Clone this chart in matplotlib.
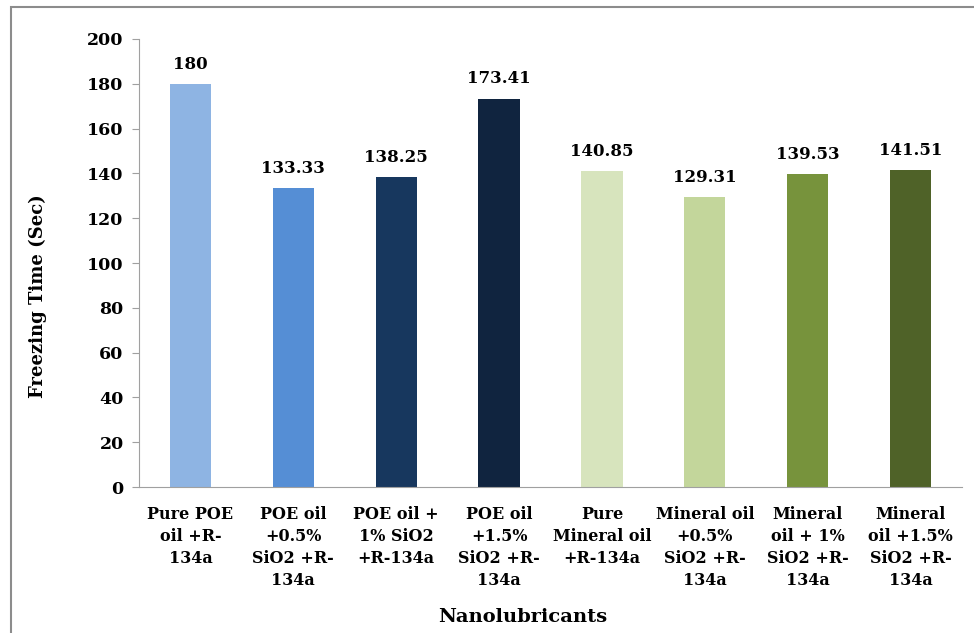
import matplotlib
matplotlib.use("Agg")
import matplotlib.pyplot as plt
from matplotlib.patches import Rectangle

categories = [
    "Pure POE\noil +R-\n134a",
    "POE oil\n+0.5%\nSiO2 +R-\n134a",
    "POE oil +\n1% SiO2\n+R-134a",
    "POE oil\n+1.5%\nSiO2 +R-\n134a",
    "Pure\nMineral oil\n+R-134a",
    "Mineral oil\n+0.5%\nSiO2 +R-\n134a",
    "Mineral\noil + 1%\nSiO2 +R-\n134a",
    "Mineral\noil +1.5%\nSiO2 +R-\n134a",
]
freezing_time = [180, 133.33, 138.25, 173.41, 140.85, 129.31, 139.53, 141.51]
value_labels = ["180", "133.33", "138.25", "173.41", "140.85", "129.31", "139.53", "141.51"]
bar_colors = ["#8EB4E3", "#558ED5", "#17375E", "#10243F",
              "#D7E4BD", "#C3D69B", "#77933C", "#4F6228"]

plt.rcParams["font.family"] = ["DejaVu Serif"]
plt.rcParams["font.weight"] = "bold"

fig = plt.figure(figsize=(9.74, 6.33), dpi=100)
ax = fig.add_axes([0.1427, 0.2306, 0.8450, 0.7078])

# outer frame of the pasted chart
fig.patches.append(Rectangle((11 / 974, -0.1), 1.2, 1 - 7 / 633 + 0.1,
                             transform=fig.transFigure, fill=False,
                             edgecolor="#8C8C8C", linewidth=1.5))

x = range(len(categories))
bars = ax.bar(x, freezing_time, width=0.4, color=bar_colors)
for b, lab in zip(bars, value_labels):
    ax.text(b.get_x() + b.get_width() / 2, b.get_height() + 5, lab,
            ha="center", va="bottom", fontsize=12, fontweight="bold")

ax.set_xlim(-0.5, len(categories) - 0.5)
ax.set_ylim(0, 200)
ax.set_yticks(range(0, 201, 20))
ax.set_xticks(list(x))
ax.set_xticklabels(categories, fontsize=11.5, fontweight="bold", linespacing=1.38)
ax.tick_params(axis="x", length=0, pad=14)
ax.tick_params(axis="y", labelsize=12.5, length=5, color="#A0A0A0", pad=6)
for lab in ax.get_yticklabels():
    lab.set_fontweight("bold")

for s in ["top", "right"]:
    ax.spines[s].set_visible(False)
ax.spines["left"].set_color("#A0A0A0")
ax.spines["bottom"].set_color("#A0A0A0")

fig.text(38 / 974, 1 - 296 / 633, "Freezing Time (Sec)", rotation=90,
         ha="center", va="center", fontsize=13, fontweight="bold")
fig.text(523 / 974, 1 - 617 / 633, "Nanolubricants",
         ha="center", va="center", fontsize=14, fontweight="bold")

fig.savefig("out.png", dpi=100)
